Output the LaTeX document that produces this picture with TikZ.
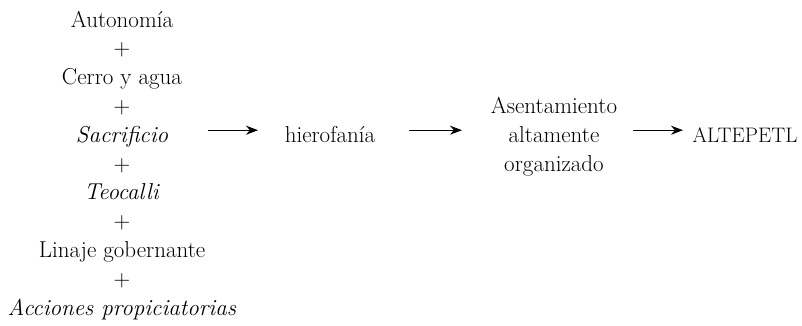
\documentclass[tikz,border=0pt]{standalone}
\usepackage{fontspec}
\setmainfont{Latin Modern Roman}
\usepackage{tikz}
\usetikzlibrary{positioning, arrows.meta}

\begin{document}
\begin{tikzpicture}[
      x=1pt, y=1pt,
      term/.style={inner sep=0pt, font=\fontsize{23}{28.8}\selectfont},
      row/.style={term, text height=24pt, text depth=0pt},
      flow/.style={-{Stealth[length=12pt, width=9pt]}, line width=0.9pt}
  ]
    \useasboundingbox (0,0) rectangle (802,325);
    % left column
    \node[row](auto) at (122,310){Autonom\'ia};
    \node[row](p1) at (122,281.2){+};
    \node[row](cerro) at (122,252.4){Cerro y agua};
    \node[row](p2) at (122,223.6){+};
    \node[row](sacr) at (122,194.8){\textit{Sacrificio}};
    \node[row](p3) at (122,166){+};
    \node[row](teo) at (122,137.2){\textit{Teocalli}};
    \node[row](p4) at (122,108.4){+};
    \node[row](linaje) at (122,79.6){Linaje gobernante};
    \node[row](p5) at (122,50.8){+};
    \node[row](acc) at (122,22){\textit{Acciones propiciatorias}};
    % chain
    \node[row](hiero) at (330,194.8){hierofan\'ia};
    \node[term, align=center, anchor=base](asent) at (554,154){Asentamiento\\altamente\\organizado};
    \node[row, font=\fontsize{21}{28.8}\selectfont](altepetl) at (745,194.8){ALTEPETL};
    \coordinate (asentmid) at (hiero.center -| asent.center);
    \draw[flow, shorten <=86pt, shorten >=72pt](sacr.center)--(hiero.center);
    \draw[flow, shorten <=79pt, shorten >=92pt](hiero.center)--(asentmid);
    \draw[flow, shorten <=79pt, shorten >=62pt](asentmid)--(altepetl.center);
  \end{tikzpicture}
\end{document}
